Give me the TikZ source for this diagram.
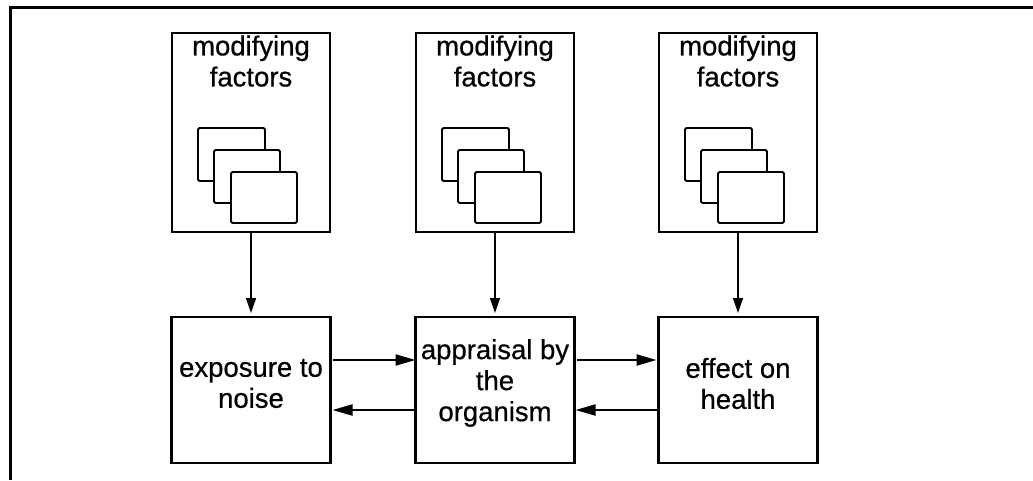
\documentclass[tikz,border=0pt]{standalone}
\usepackage{fontspec}
\setmainfont{Liberation Sans}
\newfontfamily\lblfont{Liberation Sans}[FakeBold=0.6]
\usetikzlibrary{arrows.meta}
\begin{document}
\begin{tikzpicture}[x=1pt,y=1pt,
  frame/.style={line width=3pt},
  topbox/.style={draw, line width=2pt, minimum width=158pt, minimum height=199pt, inner sep=0pt, outer sep=0pt},
  botbox/.style={draw, line width=2.2pt, minimum width=159pt, minimum height=146pt, inner sep=0pt, outer sep=0pt},
  card/.style={draw, fill=white, line width=1.8pt, rounded corners=1.5pt},
  lbl/.style={font=\lblfont\fontsize{27.5}{31}\selectfont, align=center, inner sep=0pt},
  varrow/.style={line width=1.6pt, -{Triangle[length=15pt,width=10pt]}, shorten >=4pt},
  harrow/.style={line width=2.2pt, -{Triangle[length=20pt,width=11pt]}}]
\useasboundingbox (0,0) rectangle (1033,480);
\draw[frame] (10,0) |- (1033,472);

% top boxes
\node[topbox] (tA) at (251,347.5) {};
\node[topbox] (tB) at (495,347.5) {};
\node[topbox] (tC) at (738,347.5) {};

% bottom boxes
\node[botbox] (bA) at (251,90) {};
\node[botbox] (bB) at (495,90) {};
\node[botbox] (bC) at (738,90) {};

% stacked cards
\foreach \b in {tA,tB,tC}{
  \begin{scope}[shift={(\b.north west)}]
    \draw[card] (26,-95) rectangle (93,-148);
    \draw[card] (42,-117) rectangle (108,-170);
    \draw[card] (59,-139) rectangle (125,-190);
  \end{scope}
}

% labels
\node[lbl, anchor=north] (lA) at ([yshift=-2.3pt]tA.north) {modifying\\factors};
\node[lbl, anchor=north] (lB) at ([yshift=-2.3pt]tB.north) {modifying\\factors};
\node[lbl, anchor=north] (lC) at ([yshift=-2.3pt]tC.north) {modifying\\factors};

\node[lbl] (xA) at ([yshift=6.5pt]bA.center) {exposure to\\noise};
\node[lbl] (xB) at ([yshift=7pt]bB.center) {appraisal by\\the\\organism};
\node[lbl] (xC) at ([yshift=6.5pt]bC.center) {effect on\\health};

% vertical arrows
\draw[varrow] (tA.south) -- (bA.north);
\draw[varrow] (tB.south) -- (bB.north);
\draw[varrow] (tC.south) -- (bC.north);

% horizontal arrows
\draw[harrow, shorten <=2pt] ([yshift=30pt]bA.east) -- ([yshift=30pt]bB.west);
\draw[harrow, shorten >=2pt] ([yshift=-20pt]bB.west) -- ([yshift=-20pt]bA.east);
\draw[harrow, shorten <=2pt, shorten >=2pt] ([yshift=30pt]bB.east) -- ([yshift=30pt]bC.west);
\draw[harrow, shorten >=1pt] ([yshift=-20pt]bC.west) -- ([yshift=-20pt]bB.east);
\end{tikzpicture}
\end{document}
